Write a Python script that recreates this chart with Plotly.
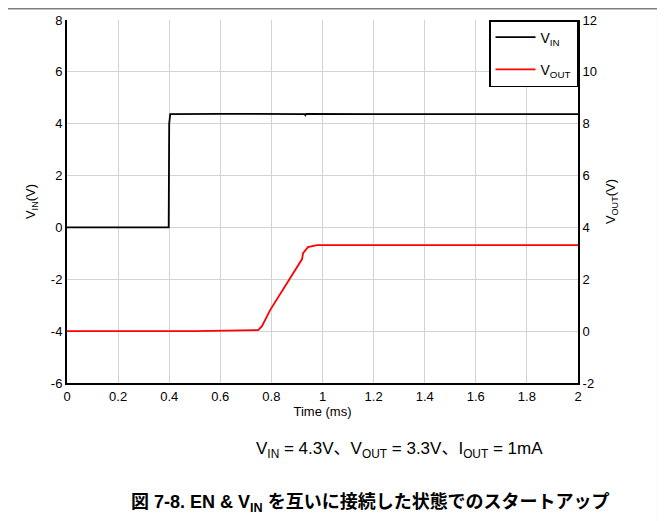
import plotly.graph_objects as go

# VIN trace (left axis), time in ms
vin_t = [0.0, 0.398, 0.400, 0.404, 0.6, 0.93, 0.933, 0.936, 1.2, 1.6, 2.0]
vin_v = [0.0, 0.0, 4.0, 4.37, 4.38, 4.37, 4.33, 4.38, 4.37, 4.38, 4.37]

# VOUT trace (right axis)
vout_t = [0.0, 0.5, 0.748, 0.763, 0.795, 0.86, 0.920, 0.924, 0.943, 0.978, 1.2, 1.6, 2.0]
vout_v = [0.0, 0.0, 0.04, 0.19, 0.81, 1.85, 2.78, 3.01, 3.24, 3.32, 3.32, 3.32, 3.32]

x_ticks = [0, 0.2, 0.4, 0.6, 0.8, 1, 1.2, 1.4, 1.6, 1.8, 2]
y1_ticks = [-6, -4, -2, 0, 2, 4, 6, 8]
y2_ticks = [-2, 0, 2, 4, 6, 8, 10, 12]

font = "Liberation Sans, Arial, Noto Sans CJK JP"

fig = go.Figure()
fig.add_trace(go.Scatter(x=vin_t, y=vin_v, mode="lines", name="V<sub>IN</sub>",
                         legendgroup="a", line=dict(color="black", width=1.8)))
fig.add_trace(go.Scatter(x=vout_t, y=vout_v, mode="lines", name="V<sub>OUT</sub>",
                         legendgroup="b", line=dict(color="#ff0000", width=1.8), yaxis="y2"))

fig.update_layout(
    width=657, height=513,
    margin=dict(l=59, r=87, t=12, b=138),
    paper_bgcolor="white", plot_bgcolor="white",
    font=dict(family=font, size=13, color="black"),
    showlegend=True,
    legend=dict(x=1, y=1, xanchor="right", yanchor="top",
                bgcolor="white", bordercolor="black", borderwidth=1.5,
                font=dict(size=14), tracegroupgap=11, itemwidth=40),
    xaxis=dict(range=[0, 2], tickvals=x_ticks, ticktext=[str(t) for t in x_ticks],
               showgrid=True, gridcolor="#d3d3d3", gridwidth=1, automargin=False,
               showline=True, linecolor="black", linewidth=2, zeroline=False,
               ticks="", title=dict(text="Time (ms)", standoff=2, font=dict(size=13))),
    yaxis=dict(range=[-6, 8], tickvals=y1_ticks, ticktext=[str(t) for t in y1_ticks],
               automargin=False,
               showgrid=True, gridcolor="#d3d3d3", gridwidth=1,
               showline=True, linecolor="black", linewidth=2, zeroline=False,
               ticks="", title=dict(text="V<sub>IN</sub>(V)", standoff=12, font=dict(size=13))),
    yaxis2=dict(range=[-2, 12], tickvals=y2_ticks, ticktext=[str(t) for t in y2_ticks],
                overlaying="y", side="right",
                showgrid=False, showline=True, linecolor="black", linewidth=2,
                zeroline=False, ticks="", automargin=False,
                title=dict(text="V<sub>OUT</sub>(V)", standoff=10, font=dict(size=13))),
)

fig.add_annotation(text="V<sub>IN</sub> = 4.3V、V<sub>OUT</sub> = 3.3V、I<sub>OUT</sub> = 1mA",
                   xref="paper", yref="paper", x=0.65, y=-0.1846, showarrow=False,
                   font=dict(size=17), xanchor="center", yanchor="middle")
fig.add_annotation(text="<b>図 7-8. EN & V<sub>IN</sub> を互いに接続した状態でのスタートアップ</b>",
                   xref="paper", yref="paper", x=0.593, y=-0.33, showarrow=False,
                   font=dict(size=18), xanchor="center", yanchor="middle")

# outer frame lines (top and right) of the cropped figure
fig.add_shape(type="line", xref="paper", yref="paper", x0=-0.2, x1=1.156, y0=1.031, y1=1.031,
              line=dict(color="#808080", width=1.5))
fig.add_shape(type="line", xref="paper", yref="paper", x0=1.156, x1=1.156, y0=-0.5, y1=1.031,
              line=dict(color="#808080", width=1.5))

fig.write_html("out.html")
